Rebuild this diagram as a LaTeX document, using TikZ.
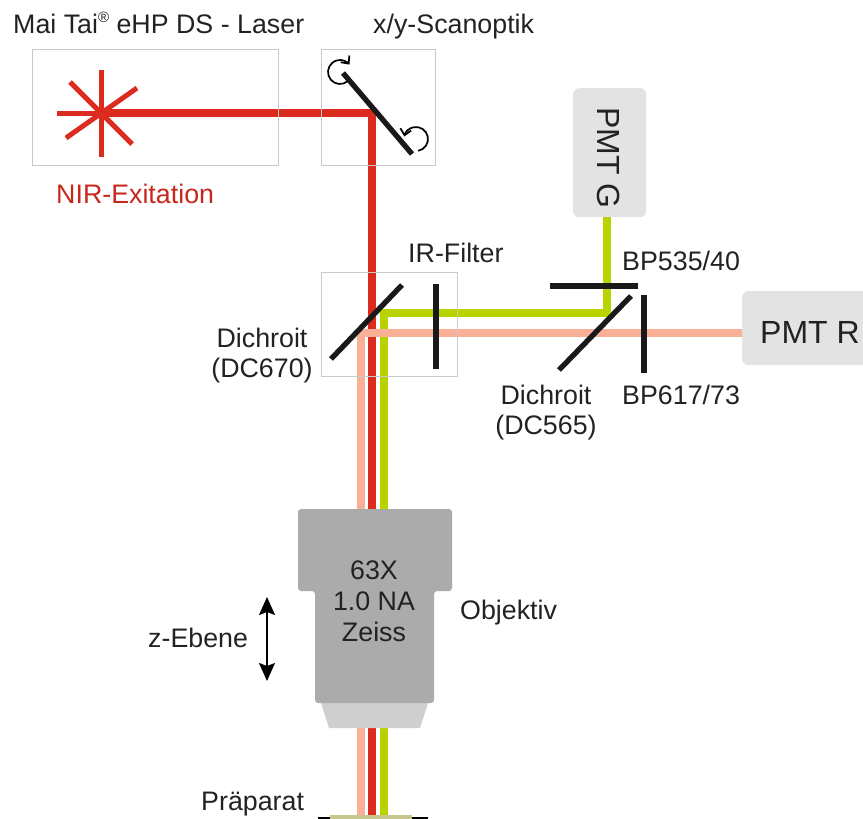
\documentclass[tikz,border=0pt]{standalone}
\usepackage{fontspec}
\setmainfont{Liberation Sans}
\usetikzlibrary{arrows.meta,positioning,calc}
\definecolor{beamred}{HTML}{DC2C1F}
\definecolor{beamgreen}{HTML}{B9D300}
\definecolor{beampeach}{HTML}{F9B097}
\definecolor{boxline}{HTML}{C9C9C9}
\definecolor{pmtgray}{HTML}{E3E3E3}
\definecolor{objgray}{HTML}{ABABAB}
\definecolor{tipgray}{HTML}{CFCFCF}
\definecolor{samplecol}{HTML}{C6C78E}
\definecolor{labelblack}{HTML}{222222}
\tikzset{
  beam/.style={line width=7.3pt, line join=miter},
  optic/.style={line width=5.3pt, color=black!90},
  starray/.style={line width=5pt, beamred},
  housing/.style={draw=boxline, line width=1.2pt, inner sep=0pt, anchor=north west},
  pmt/.style={fill=pmtgray, rounded corners=6pt, inner sep=0pt, anchor=north west},
  pmtlbl/.style={font=\fontsize{32}{34}\selectfont, text=labelblack, inner sep=0pt},
  lbl/.style={font=\fontsize{26.8}{31}\selectfont, text=labelblack, inner sep=0pt, align=center},
  rotarrow/.style={line width=1.7pt, -{Straight Barb[length=6pt,width=11pt]}}
}
\begin{document}
\begin{tikzpicture}[x=1pt, y=-1pt]
	\useasboundingbox (0,0) rectangle (863,819);
	% beam corners
	\coordinate (star) at (101,113);
	\coordinate (scan) at (372,113);
	\coordinate (redend) at (372,815);
	\coordinate (greenend) at (384,815);
	\coordinate (greenturn) at (384,313);
	\coordinate (greenup) at (607,313);
	\coordinate (peachend) at (361,815);
	\coordinate (peachturn) at (361,333);
	% detectors
	\node[pmt, minimum width=73pt, minimum height=129pt] (pmtg) at (573,88) {};
	\node[pmt, minimum width=130pt, minimum height=74pt] (pmtr) at (742,291) {};
	\node[pmtlbl, rotate=-90, anchor=base west] (pmtgtext) at (597,107) {PMT G};
	\node[pmtlbl, anchor=base west] (pmtrtext) at (760,343) {PMT R};
	% beams
	\draw[beam, beamgreen] (greenend) -- (greenturn) -- (greenup) -- (greenup |- pmtg.south);
	\draw[beam, beamred] (star) -- (scan) -- (redend);
	\draw[beam, beampeach] (peachend) -- (peachturn) -- (pmtr.west |- peachturn);
	% star
	\draw[starray] (57,113) -- (144,113);
	\draw[starray] (101,70) -- (101,157);
	\draw[starray] (70,82) -- (132,144);
	\draw[starray] (66,138) -- (137,88);
	% housings
	\node[housing, minimum width=246pt, minimum height=116pt] (laser) at (32,49) {};
	\node[housing, minimum width=114pt, minimum height=116pt] (scanbox) at (321,49) {};
	\node[housing, minimum width=136pt, minimum height=104pt] (irbox) at (321,272) {};
	% scan mirror
	\draw[optic] (343,73) -- (412,154);
	\draw[rotarrow] (340,72) ++(-50:12pt) arc[start angle=-50, end angle=-322, radius=12pt];
	\draw[rotarrow] (416,139) ++(-80:12pt) arc[start angle=-80, end angle=168, radius=12pt];
	% filters and dichroics
	\draw[optic] (331,359) -- (402,285);
	\draw[optic] (436,284) -- (436,369);
	\draw[optic] (550,286) -- (638,286);
	\draw[optic] (559,370) -- (631,296);
	\draw[optic] (644,295) -- (644,373);
	% objective
	\fill[tipgray] (320,700) -- (429,700) -- (420,728) -- (329,728) -- cycle;
	\fill[objgray, rounded corners=3pt] (298,509) -- (452,509) -- (452,591) -- (434,591) -- (434,703) -- (315,703) -- (315,591) -- (298,591) -- cycle;
	\node[lbl] (objtext) at (374,601.5) {63X\\1.0 NA\\Zeiss};
	% sample
	\fill[black] (318,817) rectangle (428,819);
	\fill[samplecol] (330,815) rectangle (412,819);
	% z arrow
	\coordinate (ztop) at (267,597);
	\coordinate (zbot) at (267,681);
	\draw[line width=1.6pt, {Stealth[length=18pt,width=16pt,inset=3pt]}-{Stealth[length=18pt,width=16pt,inset=3pt]}] (ztop) -- (zbot);
	% labels
	\node[lbl, anchor=base west] (lasertext) at (13,33) {Mai Tai\raisebox{10pt}{\fontsize{15}{15}\selectfont ®}\ eHP DS - Laser};
	\node[lbl, anchor=base west] (scantext) at (373,33) {x/y-Scanoptik};
	\node[lbl, anchor=base west, text=beamred!90!black] (nirtext) at (56,203) {NIR-Exitation};
	\node[lbl, anchor=base west] (irtext) at (408,262) {IR-Filter};
	\node[lbl, anchor=base] (dc1text) at (262,347) {Dichroit};
	\node[lbl, anchor=base] (dc1btext) at (262,377) {(DC670)};
	\node[lbl, anchor=base west] (bp1text) at (622,270) {BP535/40};
	\node[lbl, anchor=base west] (bp2text) at (622,404) {BP617/73};
	\node[lbl, anchor=base] (dc2text) at (546,404) {Dichroit};
	\node[lbl, anchor=base] (dc2btext) at (546,434) {(DC565)};
	\node[lbl, anchor=base west] (zebene) at (148,647) {z-Ebene};
	\node[lbl, anchor=base west] (objektiv) at (460,619) {Objektiv};
	\node[lbl, anchor=base west] (praeparat) at (201,810) {Präparat};
\end{tikzpicture}
\end{document}
